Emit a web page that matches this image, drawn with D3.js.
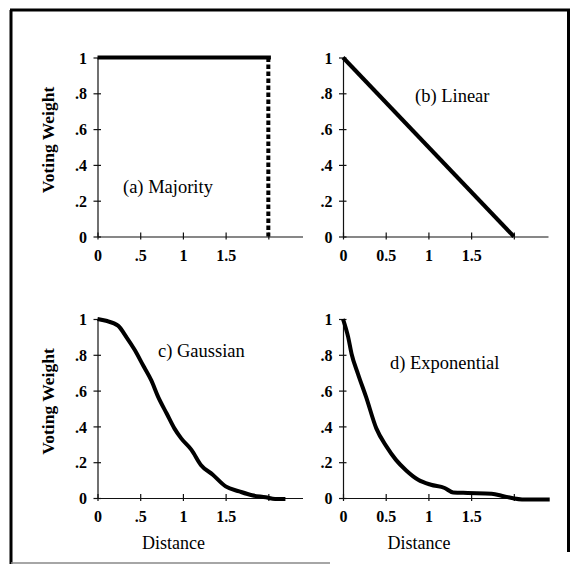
<!DOCTYPE html>
<html>
<head>
<meta charset="utf-8">
<script src="https://cdn.jsdelivr.net/npm/d3@7"></script>
<style>
  body { margin: 0; background: #fff; }
  svg text { font-family: "Liberation Serif", "Times New Roman", serif; fill: #000; }
  .tick text { font-size: 16px; font-weight: bold; }
  .axis path, .axis line { stroke: #111; stroke-width: 1.2; }
  .curve { fill: none; stroke: #000; stroke-width: 4; stroke-linejoin: round; stroke-linecap: butt; }
</style>
</head>
<body>
<svg id="chart" width="574" height="572"></svg>
<script>
// tick values and labels
const yTicks = [0, 0.2, 0.4, 0.6, 0.8, 1];
const yTickLabels = ["0", ".2", ".4", ".6", ".8", "1"];
const xTicks = [0, 0.5, 1, 1.5, 2];
const xLabelsShort = ["0", ".5", "1", "1.5", ""];
const xLabelsLong = ["0", "0.5", "1", "1.5", ""];

// (a) majority: flat at 1 up to the cutoff, then a dashed drop
const majorityX = [0, 2.03];
const majorityY = [1, 1];
const majorityCutX = [2, 2];
const majorityCutY = [1, 0];

// (b) linear
const linearX = [0, 2];
const linearY = [1, 0];

// (c) gaussian
const gaussX = [0, 0.1, 0.24, 0.34, 0.44, 0.535, 0.63, 0.71, 0.81, 0.9, 0.98, 1.1, 1.21, 1.35, 1.5, 1.66, 1.81, 1.97, 2.08, 2.2];
const gaussY = [1, 0.99, 0.963, 0.898, 0.824, 0.74, 0.657, 0.565, 0.472, 0.389, 0.333, 0.269, 0.185, 0.13, 0.065, 0.037, 0.015, 0.004, -0.006, -0.006];

// (d) exponential
const expX = [0, 0.06, 0.1, 0.175, 0.27, 0.39, 0.51, 0.62, 0.74, 0.88, 1.03, 1.19, 1.29, 1.46, 1.74, 1.89, 2.13, 2.42];
const expY = [1, 0.9, 0.806, 0.694, 0.565, 0.389, 0.287, 0.213, 0.154, 0.102, 0.074, 0.056, 0.031, 0.028, 0.024, 0.009, -0.009, -0.009];

const svg = d3.select("#chart");

// Frame around the figure
svg.append("line").attr("x1", 11).attr("y1", 10).attr("x2", 11).attr("y2", 564)
    .attr("stroke", "#000").attr("stroke-width", 3);
svg.append("line").attr("x1", 10).attr("y1", 10).attr("x2", 570).attr("y2", 10)
    .attr("stroke", "#000").attr("stroke-width", 3);
svg.append("line").attr("x1", 568.5).attr("y1", 9).attr("x2", 568.5).attr("y2", 552)
    .attr("stroke", "#000").attr("stroke-width", 3);
svg.append("line").attr("x1", 11).attr("y1", 563).attr("x2", 330).attr("y2", 563)
    .attr("stroke", "#888").attr("stroke-width", 1.5);

const pw = 205, ph = 179;
const xScale = d3.scaleLinear().domain([0, 2.4]).range([0, pw]);
const yScale = d3.scaleLinear().domain([0, 1]).range([ph, 0]);

const panels = [
    { x: 97.5, y: 57.5, labels: xLabelsShort, yTitle: true, xTitle: false,
      series: [{ xs: majorityX, ys: majorityY, w: 4.5 },
               { xs: majorityCutX, ys: majorityCutY, w: 3, dash: "4.5,2.5" }],
      note: "(a) Majority", nx: 123, ny: 193 },
    { x: 343, y: 57.5, labels: xLabelsLong, yTitle: false, xTitle: false,
      series: [{ xs: linearX, ys: linearY, w: 4.5 }],
      note: "(b) Linear", nx: 415, ny: 102 },
    { x: 97.5, y: 319, labels: xLabelsShort, yTitle: true, xTitle: true,
      series: [{ xs: gaussX, ys: gaussY, w: 4.5, smooth: true }],
      note: "c) Gaussian", nx: 158, ny: 357 },
    { x: 343, y: 319, labels: xLabelsLong, yTitle: false, xTitle: true,
      series: [{ xs: expX, ys: expY, w: 4.5, smooth: true }],
      note: "d) Exponential", nx: 390, ny: 369 }
];

const line = d3.line()
    .x(d => xScale(d[0]))
    .y(d => yScale(d[1]));
const smoothLine = d3.line()
    .x(d => xScale(d[0]))
    .y(d => yScale(d[1]))
    .curve(d3.curveMonotoneX);

panels.forEach(p => {
    const g = svg.append("g").attr("transform", `translate(${p.x},${p.y})`);

    // Y axis, ticks cross the axis line
    const ya = g.append("g").attr("class", "axis")
        .call(d3.axisLeft(yScale).tickValues(yTicks)
            .tickFormat((d, i) => yTickLabels[i])
            .tickSize(4).tickSizeOuter(0).tickPadding(6.5));
    ya.selectAll(".tick line").attr("x1", 3.5);
    ya.selectAll(".tick text").attr("dy", "0.35em");

    // X axis
    const xa = g.append("g").attr("class", "axis")
        .attr("transform", `translate(0,${ph})`)
        .call(d3.axisBottom(xScale).tickValues(xTicks)
            .tickFormat((d, i) => p.labels[i])
            .tickSize(3).tickSizeOuter(0));
    xa.selectAll(".tick line").attr("y1", -4);
    xa.selectAll(".tick text").attr("y", 24).attr("dy", 0);

    // Curves
    p.series.forEach(s => {
        g.append("path")
            .datum(s.xs.map((v, i) => [v, s.ys[i]]))
            .attr("class", "curve")
            .attr("stroke-width", s.w)
            .attr("stroke-dasharray", s.dash || null)
            .attr("d", s.smooth ? smoothLine : line);
    });

    if (p.yTitle) {
        svg.append("text")
            .attr("transform", `translate(54,${p.y + ph / 2 - 7}) rotate(-90)`)
            .attr("text-anchor", "middle")
            .style("font-size", "17.5px")
            .style("font-weight", "bold")
            .text("Voting Weight");
    }
    if (p.xTitle) {
        svg.append("text")
            .attr("x", p.x + 76)
            .attr("y", 549)
            .attr("text-anchor", "middle")
            .style("font-size", "18px")
            .text("Distance");
    }

    svg.append("text")
        .attr("x", p.nx)
        .attr("y", p.ny)
        .style("font-size", "18.5px")
        .text(p.note);
});
</script>
</body>
</html>
